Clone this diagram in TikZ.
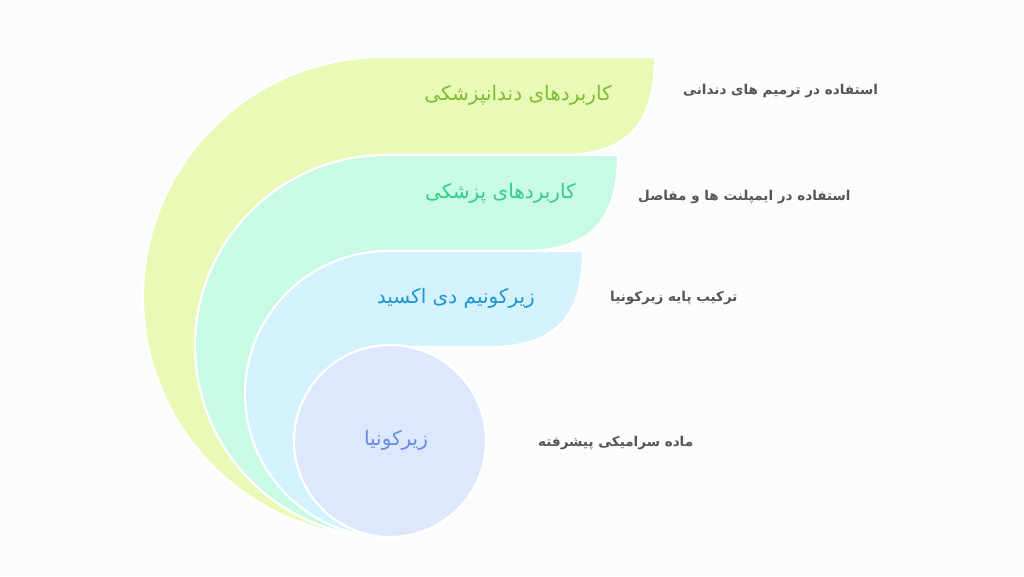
\documentclass[tikz,border=0pt]{standalone}
\usepackage{fontspec}
\newfontfamily\fafont[Script=Arabic]{DejaVu Sans}
\TeXXeTstate=1
\definecolor{pagebg}{RGB}{252,252,252}
\definecolor{dentfill}{RGB}{233,250,183}
\definecolor{denttext}{RGB}{128,188,52}
\definecolor{medfill}{RGB}{200,250,230}
\definecolor{medtext}{RGB}{52,205,140}
\definecolor{oxidefill}{RGB}{212,242,252}
\definecolor{oxidetext}{RGB}{30,150,210}
\definecolor{zircfill}{RGB}{222,232,252}
\definecolor{zirctext}{RGB}{100,140,230}
\definecolor{notegray}{RGB}{85,85,85}

\begin{document}
\begin{tikzpicture}[x=0.02cm, y=0.02cm,
    layer/.style = {draw=white, line width=1.2pt},
    title/.style = {font=\fafont\fontsize{11.4}{13}\selectfont},
    note/.style = {font=\fafont\bfseries\fontsize{7.7}{9}\selectfont, text=notegray, anchor=west}]
    \fill[pagebg] (0,0) rectangle (1024,576);
    \useasboundingbox (0,0) rectangle (1024,576);
    % nested layers, outer first
    \draw[layer, fill=dentfill] (383,519) arc[start angle=90, end angle=270, radius=4.8cm]
        -- (383,421) -- (560,421) .. controls (626,421) and (655,450) .. (655,519) -- cycle;
    \draw[layer, fill=medfill] (386,421) arc[start angle=90, end angle=270, radius=3.82cm]
        -- (386,325) -- (522,325) .. controls (589,325) and (618,354) .. (618,421) -- cycle;
    \draw[layer, fill=oxidefill] (388,325) arc[start angle=90, end angle=270, radius=2.86cm]
        -- (388,229) -- (488,229) .. controls (555,229) and (583,258) .. (583,325) -- cycle;
    \node[layer, circle, fill=zircfill, minimum size=3.84cm, inner sep=0pt] (zirc) at (390,135) {};
    % titles
    \node[title, text=denttext, anchor=east] (dent) at (618,481) {\beginR کاربردهای دندانپزشکی\endR};
    \node[title, text=medtext, anchor=east] (med) at (582,383) {\beginR کاربردهای پزشکی\endR};
    \node[title, text=oxidetext, anchor=east] (oxide) at (541,278) {\beginR زیرکونیم دی اکسید\endR};
    \node[title, text=zirctext] (zircname) at (396,136) {\beginR زیرکونیا\endR};
    % notes
    \node[note] (dentnote) at (677,485) {\beginR استفاده در ترمیم های دندانی\endR};
    \node[note] (mednote) at (632,379) {\beginR استفاده در ایمپلنت ها و مفاصل\endR};
    \node[note] (oxidenote) at (604,278) {\beginR ترکیب پایه زیرکونیا\endR};
    \node[note] (zircnote) at (532,133) {\beginR ماده سرامیکی پیشرفته\endR};
\end{tikzpicture}
\end{document}
